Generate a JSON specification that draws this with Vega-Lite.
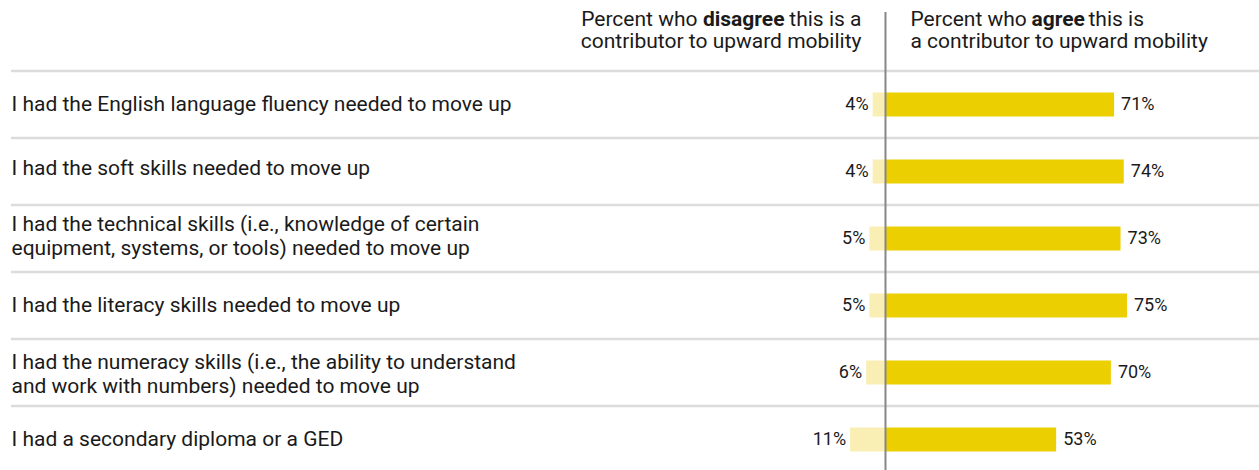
{
  "$schema": "https://vega.github.io/schema/vega-lite/v6.json",
  "width": 1259,
  "height": 470,
  "padding": 0,
  "autosize": {"type": "none"},
  "background": "white",
  "config": {"view": {"stroke": null}, "font": "Roboto"},
  "data": {"values": [
    {"item": "I had the English language fluency needed to move up", "disagree": 0.04, "agree": 0.71},
    {"item": "I had the soft skills needed to move up", "disagree": 0.04, "agree": 0.74},
    {"item": "I had the technical skills (i.e., knowledge of certain|equipment, systems, or tools) needed to move up", "disagree": 0.05, "agree": 0.73},
    {"item": "I had the literacy skills needed to move up", "disagree": 0.05, "agree": 0.75},
    {"item": "I had the numeracy skills (i.e., the ability to understand|and work with numbers) needed to move up", "disagree": 0.06, "agree": 0.70},
    {"item": "I had a secondary diploma or a GED", "disagree": 0.11, "agree": 0.53}
  ]},
  "resolve": {"scale": {"x": "independent"}},
  "layer": [
    {
      "mark": {"type": "rule", "color": "#dcdcdc", "strokeWidth": 2.5},
      "encoding": {
        "y": {"field": "item", "type": "nominal", "sort": null, "bandPosition": 0,
          "scale": {"range": [71, 473], "paddingInner": 0, "paddingOuter": 0},
          "axis": {"orient": "left", "title": null, "domain": false, "ticks": false, "labelAlign": "left", "labelPadding": -11, "labelLimit": 800, "labelFontSize": 21, "labelColor": "#1a1a1a", "labelFont": "Roboto", "labelLineHeight": 24, "labelBaseline": "middle",
            "labelOffset": {"condition": [
              {"test": "indexof(datum.value, 'technical') >= 0", "value": -14},
              {"test": "indexof(datum.value, 'numeracy') >= 0", "value": -10},
              {"test": "indexof(datum.value, 'soft') >= 0", "value": -3}
            ], "value": 0},
            "labelExpr": "split(datum.value, '|')"}},
        "x": {"datum": -2.716, "type": "quantitative", "scale": {"domain": [-2.75, 1.16], "nice": false, "zero": false}, "axis": null},
        "x2": {"datum": 1.16}
      }
    },
    {
      "mark": {"type": "bar", "color": "#ECCF00", "height": 24},
      "encoding": {
        "y": {"field": "item", "type": "nominal", "sort": null},
        "x": {"field": "agree", "type": "quantitative", "scale": {"domain": [-2.75, 1.16], "nice": false, "zero": false}, "axis": null},
        "x2": {"datum": 0}
      }
    },
    {
      "mark": {"type": "text", "align": "left", "baseline": "middle", "dx": 7, "fontSize": 18, "color": "#1a1a1a"},
      "encoding": {
        "y": {"field": "item", "type": "nominal", "sort": null},
        "x": {"field": "agree", "type": "quantitative", "scale": {"domain": [-2.75, 1.16], "nice": false, "zero": false}, "axis": null},
        "text": {"field": "agree", "type": "quantitative", "format": ".0%"}
      }
    },
    {
      "mark": {"type": "bar", "color": "#F9EFB5", "height": 24},
      "encoding": {
        "y": {"field": "item", "type": "nominal", "sort": null},
        "x": {"field": "disagree", "type": "quantitative", "scale": {"domain": [-1.16, 2.75], "nice": false, "zero": false, "reverse": true}, "axis": null},
        "x2": {"datum": 0}
      }
    },
    {
      "mark": {"type": "text", "align": "right", "baseline": "middle", "dx": -4, "fontSize": 18, "color": "#1a1a1a"},
      "encoding": {
        "y": {"field": "item", "type": "nominal", "sort": null},
        "x": {"field": "disagree", "type": "quantitative", "scale": {"domain": [-1.16, 2.75], "nice": false, "zero": false, "reverse": true}, "axis": null},
        "text": {"field": "disagree", "type": "quantitative", "format": ".0%"}
      }
    },
    {
      "data": {"values": [{}]},
      "mark": {"type": "rule", "color": "#878787", "strokeWidth": 2},
      "encoding": {
        "x": {"datum": 0, "type": "quantitative", "scale": {"domain": [-2.75, 1.16], "nice": false, "zero": false}, "axis": null},
        "y": {"value": 12},
        "y2": {"value": 470}
      }
    },
    {
      "data": {"values": [{"t": "contributor to upward mobility"}]},
      "mark": {"type": "text", "align": "right", "baseline": "alphabetic", "dx": -24, "fontSize": 21, "color": "#1a1a1a"},
      "encoding": {
        "x": {"datum": 0, "type": "quantitative", "scale": {"domain": [-2.75, 1.16], "nice": false, "zero": false}, "axis": null},
        "y": {"value": 48},
        "text": {"field": "t"}
      }
    },
    {
      "data": {"values": [{"t": "this is a"}]},
      "mark": {"type": "text", "align": "right", "baseline": "alphabetic", "dx": -24, "fontSize": 21, "color": "#1a1a1a"},
      "encoding": {
        "x": {"datum": 0, "type": "quantitative", "scale": {"domain": [-2.75, 1.16], "nice": false, "zero": false}, "axis": null},
        "y": {"value": 26},
        "text": {"field": "t"}
      }
    },
    {
      "data": {"values": [{"t": "disagree"}]},
      "mark": {"type": "text", "align": "right", "baseline": "alphabetic", "dx": -101, "fontSize": 21, "fontWeight": "bold", "color": "#1a1a1a"},
      "encoding": {
        "x": {"datum": 0, "type": "quantitative", "scale": {"domain": [-2.75, 1.16], "nice": false, "zero": false}, "axis": null},
        "y": {"value": 26},
        "text": {"field": "t"}
      }
    },
    {
      "data": {"values": [{"t": "Percent who"}]},
      "mark": {"type": "text", "align": "right", "baseline": "alphabetic", "dx": -188, "fontSize": 21, "color": "#1a1a1a"},
      "encoding": {
        "x": {"datum": 0, "type": "quantitative", "scale": {"domain": [-2.75, 1.16], "nice": false, "zero": false}, "axis": null},
        "y": {"value": 26},
        "text": {"field": "t"}
      }
    },
    {
      "data": {"values": [{"t": "a contributor to upward mobility"}]},
      "mark": {"type": "text", "align": "left", "baseline": "alphabetic", "dx": 25, "fontSize": 21, "color": "#1a1a1a"},
      "encoding": {
        "x": {"datum": 0, "type": "quantitative", "scale": {"domain": [-2.75, 1.16], "nice": false, "zero": false}, "axis": null},
        "y": {"value": 48},
        "text": {"field": "t"}
      }
    },
    {
      "data": {"values": [{"t": "Percent who"}]},
      "mark": {"type": "text", "align": "left", "baseline": "alphabetic", "dx": 25, "fontSize": 21, "color": "#1a1a1a"},
      "encoding": {
        "x": {"datum": 0, "type": "quantitative", "scale": {"domain": [-2.75, 1.16], "nice": false, "zero": false}, "axis": null},
        "y": {"value": 26},
        "text": {"field": "t"}
      }
    },
    {
      "data": {"values": [{"t": "agree"}]},
      "mark": {"type": "text", "align": "left", "baseline": "alphabetic", "dx": 146, "fontSize": 21, "fontWeight": "bold", "color": "#1a1a1a"},
      "encoding": {
        "x": {"datum": 0, "type": "quantitative", "scale": {"domain": [-2.75, 1.16], "nice": false, "zero": false}, "axis": null},
        "y": {"value": 26},
        "text": {"field": "t"}
      }
    },
    {
      "data": {"values": [{"t": "this is"}]},
      "mark": {"type": "text", "align": "left", "baseline": "alphabetic", "dx": 203, "fontSize": 21, "color": "#1a1a1a"},
      "encoding": {
        "x": {"datum": 0, "type": "quantitative", "scale": {"domain": [-2.75, 1.16], "nice": false, "zero": false}, "axis": null},
        "y": {"value": 26},
        "text": {"field": "t"}
      }
    }
  ]
}
